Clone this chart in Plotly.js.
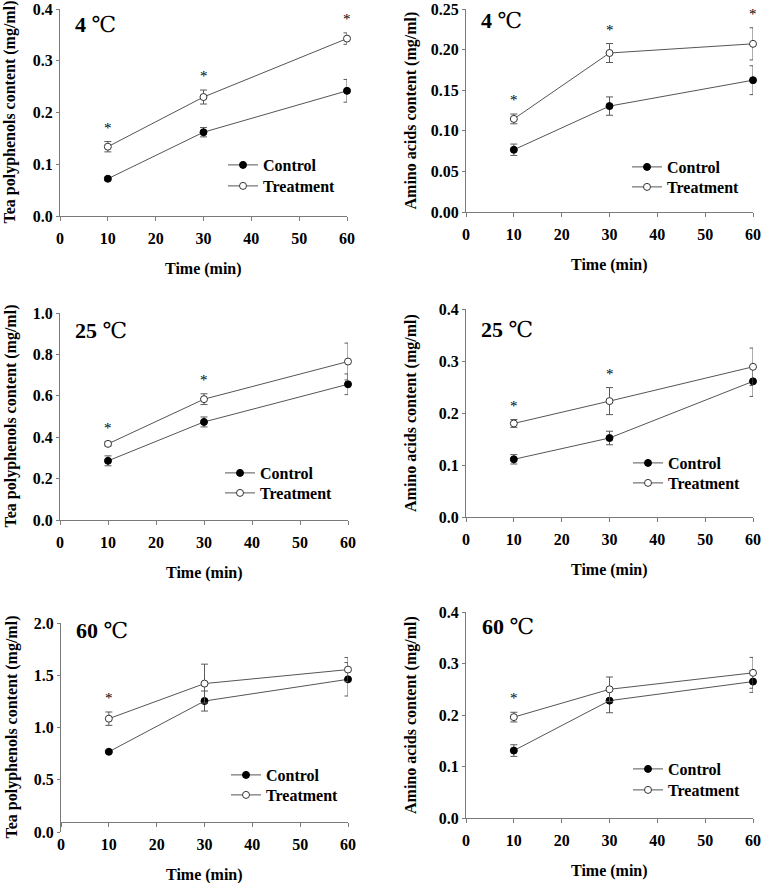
<!DOCTYPE html>
<html>
<head>
<meta charset="utf-8">
<script src="https://cdn.plot.ly/plotly-3.0.1.min.js"></script>
<style>html,body{margin:0;padding:0;background:#fff;}#chart{width:761px;height:883px;}</style>
</head>
<body>
<div id="chart"></div>
<script>
// ---------------- data ----------------
const times = [10, 30, 60];
const xTicks = [0, 10, 20, 30, 40, 50, 60];
const seriesNames = ["Control", "Treatment"];
const tempLabels = ["4", "4", "25", "25", "60", "60"];
const yTitles = ["Tea polyphenols content (mg/ml)", "Amino acids content (mg/ml)"];
const xTitle = "Time (min)";

const teaCtl4 = [0.072, 0.162, 0.242];
const teaCtl4Err = [0.003, 0.009, 0.022];
const teaTrt4 = [0.134, 0.230, 0.343];
const teaTrt4Err = [0.010, 0.0135, 0.011];
const teaSig4 = [1, 1, 1];

const aaCtl4 = [0.0767, 0.1305, 0.1624];
const aaCtl4Err = [0.007, 0.0113, 0.0178];
const aaTrt4 = [0.1147, 0.1959, 0.2072];
const aaTrt4Err = [0.006, 0.0117, 0.0198];
const aaSig4 = [1, 1, 1];

const teaCtl25 = [0.286, 0.474, 0.656];
const teaCtl25Err = [0.024, 0.024, 0.05];
const teaTrt25 = [0.368, 0.584, 0.766];
const teaTrt25Err = [0.01, 0.026, 0.089];
const teaSig25 = [1, 1, 0];

const aaCtl25 = [0.111, 0.152, 0.261];
const aaCtl25Err = [0.009, 0.013, 0.029];
const aaTrt25 = [0.180, 0.223, 0.289];
const aaTrt25Err = [0.0075, 0.026, 0.036];
const aaSig25 = [1, 1, 0];

const teaCtl60 = [0.768, 1.254, 1.462];
const teaCtl60Err = [0.01, 0.096, 0.16];
const teaTrt60 = [1.085, 1.421, 1.555];
const teaTrt60Err = [0.064, 0.186, 0.115];
const teaSig60 = [1, 0, 0];

const aaCtl60 = [0.131, 0.228, 0.265];
const aaCtl60Err = [0.0113, 0.0235, 0.021];
const aaTrt60 = [0.196, 0.250, 0.282];
const aaTrt60Err = [0.0094, 0.0239, 0.03];
const aaSig60 = [1, 0, 0];

// ---------------- layout helpers ----------------
const W = 761, H = 883;
const fx = p => p / W;
const fy = p => 1 - p / H;

// box: [left, right, top, bottom] of plot area in px; leg: [line start x, row1 y, row2 y]
const panels = [
  {ctl: teaCtl4, ctlE: teaCtl4Err, trt: teaTrt4, trtE: teaTrt4Err, sig: teaSig4, yt: 0,
   box: [60, 347, 9, 216], yr: [0, 0.4], dt: 0.1, fmt: '.1f', tl: [13, 16], leg: [228, 165, 186]},
  {ctl: aaCtl4, ctlE: aaCtl4Err, trt: aaTrt4, trtE: aaTrt4Err, sig: aaSig4, yt: 1,
   box: [466, 753, 9, 212], yr: [0, 0.25], dt: 0.05, fmt: '.2f', tl: [13, 12], leg: [632, 167, 187]},
  {ctl: teaCtl25, ctlE: teaCtl25Err, trt: teaTrt25, trtE: teaTrt25Err, sig: teaSig25, yt: 0,
   box: [60, 348, 313, 520], yr: [0, 1.0], dt: 0.2, fmt: '.1f', tl: [13, 17], leg: [225, 473, 493]},
  {ctl: aaCtl25, ctlE: aaCtl25Err, trt: aaTrt25, trtE: aaTrt25Err, sig: aaSig25, yt: 1,
   box: [466, 753, 309, 517], yr: [0, 0.4], dt: 0.1, fmt: '.1f', tl: [13, 21], leg: [633, 463, 483]},
  {ctl: teaCtl60, ctlE: teaCtl60Err, trt: teaTrt60, trtE: teaTrt60Err, sig: teaSig60, yt: 0,
   box: [61, 348, 623, 832], yr: [0, 2.0], dt: 0.5, fmt: '.1f', tl: [13, 7], leg: [231, 775, 795], xline: 822},
  {ctl: aaCtl60, ctlE: aaCtl60Err, trt: aaTrt60, trtE: aaTrt60Err, sig: aaSig60, yt: 1,
   box: [466, 753, 612, 818], yr: [0, 0.4], dt: 0.1, fmt: '.1f', tl: [14, 14], leg: [633, 769, 790]}
];

const serif = "'Liberation Serif', 'Times New Roman', serif";
const axisCol = "#7a7a7a";
const lineCol = "#555555";
const errCol = "#5a5a5a";
const tickFont = {family: serif, size: 16, color: "#000", weight: "bold"};
const legFont = {family: serif, size: 16, color: '#000', weight: 'bold'};

const traces = [];
const layout = {
  width: W, height: H,
  margin: {l: 0, r: 0, t: 0, b: 0},
  paper_bgcolor: "#fff", plot_bgcolor: "rgba(0,0,0,0)",
  showlegend: true,
  annotations: []
};

panels.forEach((p, i) => {
  const n = i + 1;
  const xa = n === 1 ? 'x' : 'x' + n;
  const ya = n === 1 ? 'y' : 'y' + n;
  const legC = 'legend' + (2 * i === 0 ? '' : (2 * i + 1));
  const legT = 'legend' + (2 * i + 2);
  const [l, r, t, b] = p.box;

  const common = {
    x: times, type: 'scatter', mode: 'lines+markers', xaxis: xa, yaxis: ya, cliponaxis: false
  };
  traces.push(Object.assign({}, common, {
    y: p.ctl, name: seriesNames[0], legend: legC,
    line: {color: lineCol, width: 1},
    marker: {symbol: 'circle', size: 7, color: '#000', line: {color: '#000', width: 1}},
    error_y: {type: 'data', array: p.ctlE, visible: true, color: errCol, thickness: 1, width: 3.5}
  }));
  traces.push(Object.assign({}, common, {
    y: p.trt, name: seriesNames[1], legend: legT,
    line: {color: lineCol, width: 1},
    marker: {symbol: 'circle', size: 7, color: '#fff', line: {color: '#333', width: 1}},
    error_y: {type: 'data', array: p.trtE, visible: true, color: errCol, thickness: 1, width: 3.5}
  }));

  const xKey = n === 1 ? 'xaxis' : 'xaxis' + n;
  const yKey = n === 1 ? 'yaxis' : 'yaxis' + n;
  const xax = {
    domain: [fx(l), fx(r)], range: [0, 60], tickmode: 'array', tickvals: xTicks,
    ticks: 'outside', ticklen: 4, tickwidth: 1, tickcolor: axisCol,
    showline: true, linecolor: axisCol, linewidth: 1, ticklabeloverflow: 'allow',
    showgrid: false, zeroline: false, tickfont: tickFont, ticklabelstandoff: 4,
    fixedrange: true
  };
  if (p.xline !== undefined) {
    xax.anchor = 'free';
    xax.position = fy(p.xline);
  } else {
    xax.anchor = ya;
  }
  layout[xKey] = xax;
  // tick values built from range and step (rounded to avoid float drop-outs)
  const yTickVals = [];
  for (let v = p.yr[0]; v <= p.yr[1] + 1e-9; v += p.dt) yTickVals.push(Math.round(v * 1000) / 1000);
  layout[yKey] = {
    domain: [fy(b), fy(t)], range: [p.yr[0], p.yr[1] * 1.0005], tickmode: 'array', tickvals: yTickVals,
    tickformat: p.fmt, ticklabeloverflow: 'allow',
    anchor: xa, ticks: 'outside', ticklen: 3, tickwidth: 1, tickcolor: axisCol,
    showline: true, linecolor: axisCol, linewidth: 1,
    showgrid: false, zeroline: false, tickfont: tickFont, fixedrange: true
  };

  // one single-entry legend per series so each row can be placed exactly
  layout[legC] = {
    x: fx(p.leg[0] - 5), y: fy(p.leg[1]), xanchor: 'left', yanchor: 'middle',
    bgcolor: 'rgba(0,0,0,0)', borderwidth: 0, font: legFont
  };
  layout[legT] = {
    x: fx(p.leg[0] - 5), y: fy(p.leg[2]), xanchor: 'left', yanchor: 'middle',
    bgcolor: 'rgba(0,0,0,0)', borderwidth: 0, font: legFont
  };

  // axis titles
  const xTitleY = p.xline !== undefined ? p.xline : b;
  layout.annotations.push({
    text: xTitle, xref: xa + ' domain', x: 0.5, yref: 'paper', y: fy(xTitleY),
    yshift: -53, xanchor: 'center', yanchor: 'middle', showarrow: false,
    font: {family: serif, size: 16, color: '#000', weight: 'bold'}
  });
  layout.annotations.push({
    text: yTitles[p.yt], xref: xa + ' domain', x: 0, xshift: (p.yt === 0 ? -50 : -55),
    yref: ya + ' domain', y: 0.5, textangle: -90, xanchor: 'center', yanchor: 'middle',
    showarrow: false, font: {family: serif, size: 16, color: '#000', weight: 'bold'}
  });
  // temperature label
  layout.annotations.push({
    text: tempLabels[i] + ' <span style="font-family:DejaVu Serif;font-weight:normal">℃</span>',
    xref: xa + ' domain', x: 0, xshift: p.tl[0], yref: ya + ' domain', y: 1, yshift: -p.tl[1],
    xanchor: 'left', yanchor: 'middle', showarrow: false,
    font: {family: serif, size: 22, color: '#000', weight: 'bold'}
  });
  // significance asterisks above treatment error bars
  p.sig.forEach((s, k) => {
    if (!s) return;
    layout.annotations.push({
      text: '*', xref: xa, x: times[k], yref: ya, y: p.trt[k] + p.trtE[k],
      xanchor: 'center', yanchor: 'bottom', yshift: 4, showarrow: false,
      font: {family: serif, size: 15, color: '#000'}
    });
  });
});

Plotly.newPlot('chart', traces, layout, {staticPlot: true, displayModeBar: false});
</script>
</body>
</html>
